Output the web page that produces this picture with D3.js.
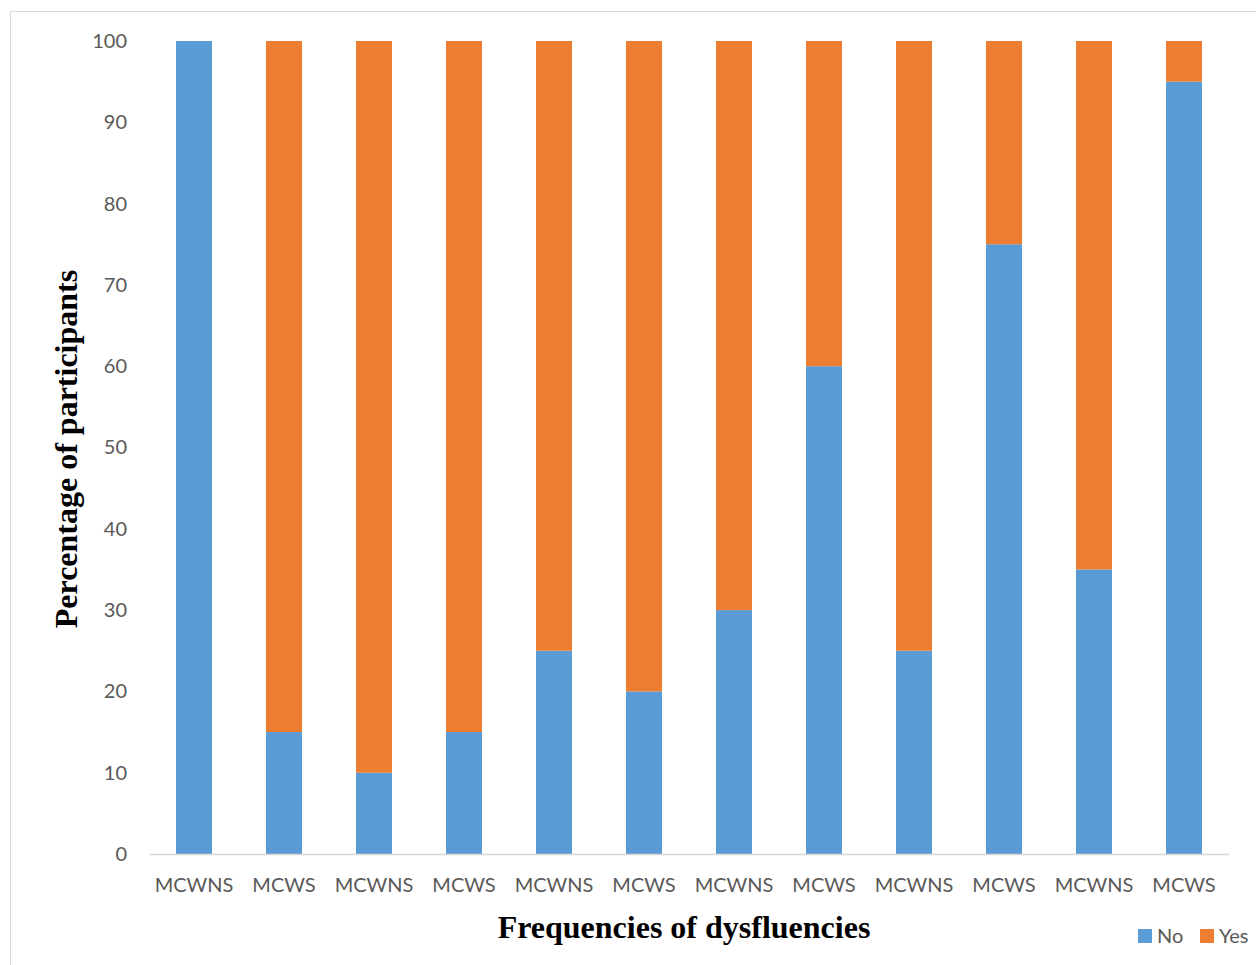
<!DOCTYPE html>
<html>
<head>
<meta charset="utf-8">
<script src="https://cdn.jsdelivr.net/npm/d3@7"></script>
<style>
  html, body { margin: 0; padding: 0; background: #fff; }
  svg { display: block; }
</style>
</head>
<body>
<svg id="chart" width="1256" height="965"></svg>
<script>
// Frequencies of dysfluencies: share of participants answering No / Yes
const categories = ["MCWNS", "MCWS", "MCWNS", "MCWS", "MCWNS", "MCWS",
                    "MCWNS", "MCWS", "MCWNS", "MCWS", "MCWNS", "MCWS"];
const noValues  = [100, 15, 10, 15, 25, 20, 30, 60, 25, 75, 35, 95];
const yesValues = [0, 85, 90, 85, 75, 80, 70, 40, 75, 25, 65, 5];
const yTicks = [0, 10, 20, 30, 40, 50, 60, 70, 80, 90, 100];
const seriesNames = ["No", "Yes"];
const colors = ["#5B9BD5", "#ED7D31"];

const svg = d3.select("#chart");
const W = 1256, H = 965;
const m = { left: 149, right: 1229, top: 41, bottom: 854 };

// outer chart frame
svg.append("rect")
  .attr("x", 10.5).attr("y", 11.5)
  .attr("width", W + 20).attr("height", H + 20)
  .attr("fill", "#fff").attr("stroke", "#d9d9d9").attr("stroke-width", 1);

const x = d3.scaleBand()
  .domain(d3.range(categories.length))
  .range([m.left, m.right])
  .paddingInner(0.6).paddingOuter(0.3);

const y = d3.scaleLinear().domain([0, 100]).range([m.bottom, m.top]);

const rows = categories.map((c, i) => ({ i, No: noValues[i], Yes: yesValues[i] }));
const stacked = d3.stack().keys(seriesNames)(rows);

const g = svg.append("g");
g.selectAll("g.series")
  .data(stacked)
  .join("g")
  .attr("class", "series")
  .attr("fill", (d, k) => colors[k])
  .selectAll("rect")
  .data(d => d)
  .join("rect")
  .attr("x", d => x(d.data.i))
  .attr("width", x.bandwidth())
  .attr("y", d => y(d[1]))
  .attr("height", d => y(d[0]) - y(d[1]));

// y axis tick labels (no axis line)
const yAxis = d3.axisLeft(y).tickValues(yTicks).tickSize(0).tickPadding(0);
const ya = svg.append("g").attr("transform", `translate(${m.left - 22},0)`).call(yAxis);
ya.select(".domain").remove();
ya.selectAll("text")
  .attr("font-family", "Lato, 'Open Sans', sans-serif")
  .attr("font-size", 20)
  .attr("fill", "#595959");

// category axis
const xAxis = d3.axisBottom(x).tickFormat(i => categories[i]).tickSize(0).tickPadding(24);
const xa = svg.append("g").attr("transform", `translate(0,${m.bottom})`).call(xAxis);
xa.select(".domain").attr("stroke", "#d9d9d9").attr("stroke-width", 1.5);
xa.selectAll("text")
  .attr("font-family", "Lato, 'Open Sans', sans-serif")
  .attr("font-size", 20)
  .attr("fill", "#595959");

// axis titles
svg.append("text")
  .attr("x", 684).attr("y", 938)
  .attr("text-anchor", "middle")
  .attr("font-family", "'Liberation Serif', 'Times New Roman', serif")
  .attr("font-weight", "bold")
  .attr("font-size", 32)
  .attr("fill", "#000")
  .text("Frequencies of dysfluencies");

svg.append("text")
  .attr("transform", "translate(77,449) rotate(-90)")
  .attr("text-anchor", "middle")
  .attr("font-family", "'Liberation Serif', 'Times New Roman', serif")
  .attr("font-weight", "bold")
  .attr("font-size", 32)
  .attr("fill", "#000")
  .text("Percentage of participants");

// legend
const legendX = [1138, 1200];
const leg = svg.append("g");
seriesNames.forEach((name, k) => {
  leg.append("rect")
    .attr("x", legendX[k]).attr("y", 929)
    .attr("width", 14).attr("height", 14)
    .attr("fill", colors[k]);
  leg.append("text")
    .attr("x", legendX[k] + 19).attr("y", 943)
    .attr("font-family", "Lato, 'Open Sans', sans-serif")
    .attr("font-size", 20)
    .attr("fill", "#595959")
    .text(name);
});
</script>
</body>
</html>
